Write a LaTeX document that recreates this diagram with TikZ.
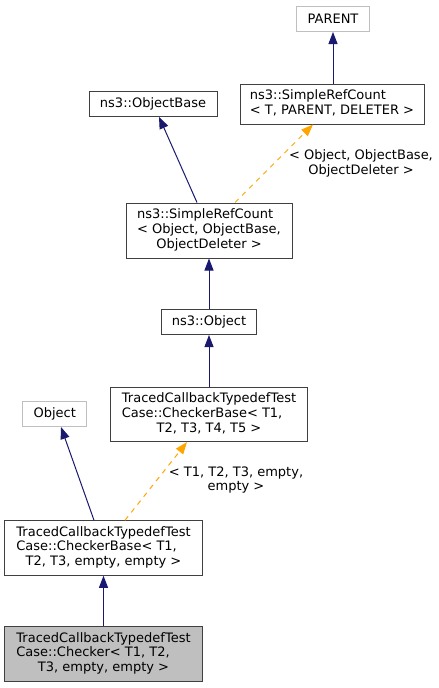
\documentclass[tikz,border=0pt]{standalone}
\usepackage{fontspec}
\setmainfont{DejaVu Sans}
\usetikzlibrary{arrows.meta}
\definecolor{edgeblue}{HTML}{191970}
\definecolor{edgeorange}{HTML}{FFA500}
\definecolor{graybord}{HTML}{BFBFBF}
\definecolor{boxbord}{HTML}{404040}
\definecolor{curfill}{HTML}{BFBFBF}
\newcommand{\dxlines}[2]{\begin{tabular}{@{}l@{}}#1\\\multicolumn{1}{@{}c@{}}{#2}\end{tabular}}
\begin{document}
\begin{tikzpicture}[x=1pt,y=-1pt,
  every node/.style={font=\fontsize{13}{14.7}\selectfont, inner sep=0pt},
  cls/.style={draw=boxbord, line width=1pt, fill=white, text=black},
  extcls/.style={draw=graybord, line width=1pt, fill=white, text=black},
  curcls/.style={draw=boxbord, line width=1pt, fill=curfill, text=black},
  inh/.style={draw=edgeblue, line width=1pt, -{Triangle[length=12pt,width=9pt]}},
  tmpl/.style={draw=edgeorange, line width=1pt, dash pattern=on 5pt off 5pt, -{Triangle[length=12pt,width=9pt]}},
  lbl/.style={align=center, text=black}]
\fill[white] (0,0) rectangle (439,688);
% nodes
\node[extcls, minimum width=73pt, minimum height=25pt] (parent) at (333,19) {PARENT};
\node[cls, minimum width=184pt, minimum height=40pt] (srcT) at (332,104) {\dxlines{ns3::SimpleRefCount}{< T, PARENT, DELETER >}};
\node[cls, minimum width=128pt, minimum height=24.5pt] (objbase) at (153,104) {ns3::ObjectBase};
\node[cls, minimum width=166pt, minimum height=55pt] (srcObj) at (209,230.5) {\dxlines{ns3::SimpleRefCount\\< Object, ObjectBase,}{ObjectDeleter >}};
\node[cls, minimum width=95pt, minimum height=25pt] (object) at (209,322) {ns3::Object};
\node[cls, minimum width=197.5pt, minimum height=54pt] (cbT5) at (209,414.6) {\dxlines{TracedCallbackTypedefTest\\Case::CheckerBase< T1,}{T2, T3, T4, T5 >}};
\node[extcls, minimum width=64pt, minimum height=25pt] (objgray) at (54.7,414) {Object};
\node[cls, minimum width=197.5pt, minimum height=54.5pt] (cbEmpty) at (103.5,548) {\dxlines{TracedCallbackTypedefTest\\Case::CheckerBase< T1,}{T2, T3, empty, empty >}};
\node[curcls, minimum width=197.5pt, minimum height=55pt] (checker) at (103.5,654) {\dxlines{TracedCallbackTypedefTest\\Case::Checker< T1, T2,}{T3, empty, empty >}};
% edges
\draw[inh] (srcT.north -| parent.south) -- (parent.south);
\draw[inh] ([xshift=-12pt]srcObj.north) -- ([xshift=6pt]objbase.south);
\draw[tmpl] ([xshift=26pt]srcObj.north) -- ([xshift=-19pt]srcT.south);
\node[lbl] (lblA) at (361,163.5) {< Object, ObjectBase,\\ObjectDeleter >};
\draw[inh] (object.north) -- (srcObj.south);
\draw[inh] (cbT5.north) -- (object.south);
\draw[tmpl] ([xshift=21.5pt]cbEmpty.north) -- ([xshift=-22pt]cbT5.south);
\node[lbl] (lblB) at (236,480) {< T1, T2, T3, empty,\\empty >};
\draw[inh] ([xshift=-9.5pt]cbEmpty.north) -- ([xshift=6.3pt]objgray.south);
\draw[inh] (checker.north) -- (cbEmpty.south);
\end{tikzpicture}
\end{document}
